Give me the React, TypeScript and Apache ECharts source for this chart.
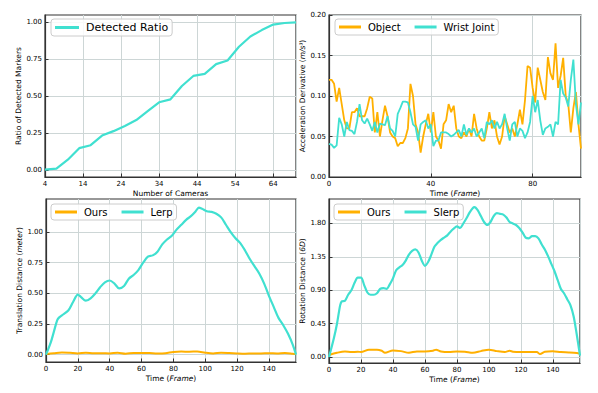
import React, { useEffect, useRef } from 'react';
import * as echarts from 'echarts';

// ---- Panel 1: detected ratio vs number of cameras
const cameraCounts = [4, 7, 10, 13, 16, 19, 22, 25, 28, 31, 34, 37, 40, 43, 46, 49, 52, 55, 58, 61, 64, 67, 70];
const detectedRatio = [0.005, 0.012, 0.072, 0.15, 0.17, 0.235, 0.265, 0.3, 0.34, 0.4, 0.46, 0.48, 0.57, 0.638, 0.652, 0.718, 0.742, 0.835, 0.905, 0.948, 0.985, 0.996, 1.0];

// ---- Panel 2: acceleration derivative per frame (frames 0..99)
const objectAccel = [
  0.12, 0.12, 0.115, 0.093, 0.11, 0.09, 0.07, 0.06, 0.06, 0.08,
  0.08, 0.085, 0.075, 0.075, 0.075, 0.085, 0.099, 0.097, 0.055, 0.08,
  0.05, 0.07, 0.088, 0.075, 0.055, 0.05, 0.048, 0.038, 0.042, 0.042,
  0.048, 0.06, 0.115, 0.1, 0.065, 0.055, 0.03, 0.05, 0.065, 0.078,
  0.055, 0.08, 0.05, 0.045, 0.035, 0.065, 0.07, 0.09, 0.08, 0.088,
  0.06, 0.05, 0.048, 0.055, 0.05, 0.06, 0.05, 0.078, 0.06, 0.05,
  0.045, 0.045, 0.06, 0.08, 0.06, 0.07, 0.05, 0.04, 0.05, 0.075,
  0.065, 0.055, 0.06, 0.05, 0.065, 0.083, 0.065, 0.095, 0.137, 0.135,
  0.11, 0.092, 0.135, 0.12, 0.105, 0.095, 0.148, 0.128, 0.12, 0.165,
  0.11, 0.125, 0.147, 0.1, 0.09, 0.055, 0.085, 0.105, 0.065, 0.035,
];
const wristAccel = [
  0.041, 0.04, 0.036, 0.039, 0.073, 0.065, 0.05, 0.068, 0.058, 0.057,
  0.053, 0.068, 0.09, 0.07, 0.066, 0.072, 0.065, 0.057, 0.068, 0.055,
  0.066, 0.065, 0.064, 0.075, 0.06, 0.057, 0.05, 0.078, 0.085, 0.093,
  0.093, 0.092, 0.08, 0.065, 0.062, 0.045, 0.065, 0.068, 0.07, 0.06,
  0.065, 0.038, 0.045, 0.045, 0.055, 0.055, 0.055, 0.053, 0.05, 0.052,
  0.055, 0.058, 0.05, 0.065, 0.052, 0.06, 0.055, 0.06, 0.05, 0.055,
  0.06, 0.048, 0.068, 0.065, 0.07, 0.06, 0.068, 0.06, 0.065, 0.078,
  0.06, 0.045, 0.065, 0.068, 0.05, 0.06, 0.057, 0.048, 0.055, 0.068,
  0.1, 0.08, 0.095, 0.07, 0.052, 0.06, 0.062, 0.065, 0.05, 0.068,
  0.065, 0.12, 0.103, 0.098, 0.087, 0.12, 0.145, 0.09, 0.065, 0.092,
];
const accelFrames = objectAccel.map((_, i) => i);

// ---- Panel 3: translation distance
const lerpFrames = [0, 3, 5, 7, 8, 10, 14, 17, 20, 22, 25, 28, 31, 34, 37, 40, 43, 46, 49, 52, 55, 58, 61, 64, 67, 70, 73, 76, 79, 82, 85, 88, 91, 94, 96, 98, 101, 104, 107, 110, 113, 116, 119, 122, 125, 128, 131, 134, 137, 140, 143, 146, 149, 152, 155, 157];
const lerpValues = [0.0, 0.1, 0.19, 0.28, 0.3, 0.32, 0.36, 0.43, 0.49, 0.47, 0.44, 0.46, 0.5, 0.55, 0.59, 0.605, 0.58, 0.54, 0.56, 0.62, 0.65, 0.69, 0.75, 0.8, 0.81, 0.84, 0.9, 0.94, 0.97, 1.02, 1.06, 1.1, 1.13, 1.17, 1.2, 1.19, 1.17, 1.165, 1.15, 1.12, 1.06, 1.0, 0.95, 0.91, 0.85, 0.78, 0.72, 0.66, 0.58, 0.48, 0.39, 0.3, 0.24, 0.17, 0.08, 0.0];
const oursTransFrames = [0, 5, 10, 15, 20, 25, 30, 35, 40, 45, 50, 55, 60, 65, 70, 75, 80, 85, 90, 95, 100, 105, 110, 115, 120, 125, 130, 135, 140, 145, 150, 155, 157];
const oursTransValues = [0.005, 0.012, 0.018, 0.015, 0.01, 0.016, 0.012, 0.012, 0.01, 0.016, 0.008, 0.014, 0.014, 0.013, 0.01, 0.012, 0.022, 0.025, 0.024, 0.026, 0.016, 0.01, 0.015, 0.013, 0.01, 0.008, 0.01, 0.01, 0.012, 0.01, 0.014, 0.008, 0.005];

// ---- Panel 4: rotation distance
const slerpFrames = [0, 3, 5, 7, 8, 10, 12, 14, 16, 18, 20, 22, 24, 26, 28, 30, 32, 34, 36, 38, 40, 42, 44, 46, 48, 50, 52, 54, 56, 58, 60, 62, 64, 66, 68, 70, 72, 74, 76, 78, 80, 82, 84, 86, 88, 90, 91, 93, 95, 97, 99, 101, 103, 105, 107, 109, 111, 113, 115, 117, 119, 121, 123, 125, 127, 129, 131, 133, 135, 137, 139, 141, 143, 145, 147, 149, 151, 153, 155, 157];
const slerpValues = [0.0, 0.25, 0.45, 0.7, 0.75, 0.76, 0.84, 0.9, 1.0, 1.07, 1.07, 0.97, 0.87, 0.84, 0.84, 0.86, 0.92, 0.93, 0.92, 0.98, 1.06, 1.17, 1.21, 1.24, 1.3, 1.38, 1.43, 1.45, 1.41, 1.3, 1.23, 1.28, 1.38, 1.49, 1.54, 1.58, 1.61, 1.64, 1.69, 1.73, 1.76, 1.74, 1.8, 1.87, 1.95, 2.01, 2.02, 1.98, 1.9, 1.82, 1.78, 1.82, 1.9, 1.94, 1.93, 1.92, 1.88, 1.82, 1.8, 1.78, 1.74, 1.68, 1.61, 1.6, 1.63, 1.63, 1.6, 1.52, 1.45, 1.36, 1.26, 1.16, 1.04, 0.92, 0.86, 0.78, 0.7, 0.55, 0.3, 0.02];
const oursRotFrames = [0, 5, 10, 14, 18, 20, 25, 30, 33, 35, 40, 45, 50, 55, 60, 65, 67, 70, 75, 80, 85, 90, 95, 100, 105, 110, 113, 115, 120, 125, 130, 132, 135, 140, 145, 150, 155, 157];
const oursRotValues = [0.027, 0.058, 0.076, 0.067, 0.072, 0.068, 0.1, 0.1, 0.085, 0.058, 0.09, 0.08, 0.058, 0.076, 0.076, 0.085, 0.1, 0.076, 0.067, 0.076, 0.072, 0.058, 0.08, 0.1, 0.08, 0.067, 0.085, 0.072, 0.067, 0.067, 0.067, 0.04, 0.072, 0.08, 0.067, 0.062, 0.054, 0.045];

// tick values
const ratioTicks = [0, 0.25, 0.5, 0.75, 1.0];
const transTicks = [0, 0.25, 0.5, 0.75, 1.0];
const rotTicks = [0, 0.45, 0.9, 1.35, 1.8];

const CYAN = '#40E0D0';
const ORANGE = '#FFB000';
const FONT = 'DejaVu Sans';
const TXT = '#000000';
const GRIDLINE = '#cdd6d6';

const pair = (xs: number[], ys: number[]) => ys.map((v, i) => [xs[i], v]);

function xAxisCfg(gridIndex: number, min: number, max: number, interval: number, name: string, rich: any) {
  return {
    type: 'value', gridIndex, min, max, interval,
    name, nameLocation: 'middle', nameGap: 12,
    nameTextStyle: { fontFamily: FONT, fontSize: 7.5, color: TXT, rich },
    axisLine: { show: true, onZero: false, lineStyle: { color: '#333', width: 1.2 } },
    axisTick: { show: true, inside: true, length: 3.5, lineStyle: { color: '#333' } },
    axisLabel: { fontFamily: FONT, fontSize: 7, color: TXT, margin: 3, showMaxLabel: false },
    splitLine: { show: true, lineStyle: { color: GRIDLINE, width: 1 } },
  };
}

function yAxisCfg(gridIndex: number, min: number, max: number, ticks: number[] | null, interval: number | undefined, name: string, rich: any, nameGap: number) {
  const a: any = {
    type: 'value', gridIndex, min, max,
    name, nameLocation: 'middle', nameGap,
    nameTextStyle: { fontFamily: FONT, fontSize: 7.5, color: TXT, rich },
    axisLine: { show: true, onZero: false, lineStyle: { color: '#333', width: 1.2 } },
    axisTick: { show: true, inside: true, length: 3.5, lineStyle: { color: '#333' } },
    axisLabel: { fontFamily: FONT, fontSize: 7, color: TXT, margin: 3, formatter: (v: number) => v.toFixed(2) },
    splitLine: { show: true, lineStyle: { color: GRIDLINE, width: 1 } },
  };
  if (interval !== undefined) a.interval = interval;
  if (ticks) {
    a.axisLabel.customValues = ticks;
    a.axisTick.customValues = ticks;
  }
  return a;
}

const richItalic = (size: number) => ({
  i: { fontStyle: 'italic', fontFamily: FONT, fontSize: size, color: TXT },
});

function legendCfg(data: string[], left: number, top: number, fontSize: number, itemGap: number, itemWidth: number) {
  return {
    data, left, top, orient: 'horizontal',
    icon: 'rect', itemWidth, itemHeight: 3, itemGap,
    padding: [3, 4, 3, 4],
    backgroundColor: 'rgba(255,255,255,0.85)',
    borderColor: '#cccccc', borderWidth: 1, borderRadius: 3,
    textStyle: { fontFamily: FONT, fontSize, color: TXT, padding: [0, 0, 0, 2] },
  };
}

export default function App() {
  const ref = useRef<HTMLDivElement>(null);
  useEffect(() => {
    if (!ref.current) return;
    const chart = echarts.init(ref.current, null, { renderer: 'svg' });
    const option: any = {
      animation: false,
      backgroundColor: '#ffffff',
      grid: [
        { left: 45, top: 15, width: 251, height: 162, show: true, borderColor: '#333', borderWidth: 1.2, containLabel: false },
        { left: 329, top: 15, width: 252, height: 162, show: true, borderColor: '#333', borderWidth: 1.2, containLabel: false },
        { left: 46, top: 199, width: 250, height: 163, show: true, borderColor: '#333', borderWidth: 1.2, containLabel: false },
        { left: 329, top: 199, width: 251, height: 164, show: true, borderColor: '#333', borderWidth: 1.2, containLabel: false },
      ],
      xAxis: [
        xAxisCfg(0, 4, 70, 10, 'Number of Cameras', richItalic(7.5)),
        xAxisCfg(1, 0, 99, 40, 'Time ({i|Frame})', richItalic(7.5)),
        xAxisCfg(2, 0, 157, 20, 'Time ({i|Frame})', richItalic(7.5)),
        xAxisCfg(3, 0, 157, 20, 'Time ({i|Frame})', richItalic(7.5)),
      ],
      yAxis: [
        yAxisCfg(0, -0.045, 1.05, ratioTicks, undefined, 'Ratio of Detected Markers', richItalic(7.5), 20),
        yAxisCfg(1, 0, 0.2, null, 0.05, 'Acceleration Derivative ({i|m/s³})', richItalic(7.5), 22),
        yAxisCfg(2, -0.06, 1.27, transTicks, undefined, 'Translation Distance ({i|meter})', richItalic(7.5), 21),
        yAxisCfg(3, -0.08, 2.13, rotTicks, undefined, 'Rotation Distance ({i|6D})', richItalic(7.5), 22),
      ],
      legend: [
        legendCfg(['Detected Ratio'], 51, 19, 11, 10, 24),
        legendCfg(['Object', 'Wrist Joint'], 335, 19, 10, 14, 22),
        legendCfg(['Ours', 'Lerp'], 51, 204, 10, 14, 22),
        legendCfg(['Ours', 'Slerp'], 334, 204, 10, 14, 22),
      ],
      series: [
        {
          name: 'Detected Ratio', type: 'line', xAxisIndex: 0, yAxisIndex: 0,
          data: pair(cameraCounts, detectedRatio), showSymbol: false, symbol: 'none',
          lineStyle: { color: CYAN, width: 2.2 }, itemStyle: { color: CYAN },
        },
        {
          name: 'Object', type: 'line', xAxisIndex: 1, yAxisIndex: 1,
          data: pair(accelFrames, objectAccel), showSymbol: false, symbol: 'none',
          lineStyle: { color: ORANGE, width: 1.8 }, itemStyle: { color: ORANGE },
        },
        {
          name: 'Wrist Joint', type: 'line', xAxisIndex: 1, yAxisIndex: 1,
          data: pair(accelFrames, wristAccel), showSymbol: false, symbol: 'none',
          lineStyle: { color: CYAN, width: 1.8 }, itemStyle: { color: CYAN },
        },
        {
          name: 'Ours', type: 'line', xAxisIndex: 2, yAxisIndex: 2,
          data: pair(oursTransFrames, oursTransValues), showSymbol: false, symbol: 'none', smooth: 0.3,
          lineStyle: { color: ORANGE, width: 2 }, itemStyle: { color: ORANGE },
        },
        {
          name: 'Lerp', type: 'line', xAxisIndex: 2, yAxisIndex: 2,
          data: pair(lerpFrames, lerpValues), showSymbol: false, symbol: 'none', smooth: 0.3,
          lineStyle: { color: CYAN, width: 2.2 }, itemStyle: { color: CYAN },
        },
        {
          name: 'Ours', type: 'line', xAxisIndex: 3, yAxisIndex: 3,
          data: pair(oursRotFrames, oursRotValues), showSymbol: false, symbol: 'none', smooth: 0.3,
          lineStyle: { color: ORANGE, width: 2 }, itemStyle: { color: ORANGE },
        },
        {
          name: 'Slerp', type: 'line', xAxisIndex: 3, yAxisIndex: 3,
          data: pair(slerpFrames, slerpValues), showSymbol: false, symbol: 'none', smooth: 0.3,
          lineStyle: { color: CYAN, width: 2.2 }, itemStyle: { color: CYAN },
        },
      ],
    };
    chart.setOption(option);
    return () => chart.dispose();
  }, []);
  return (
    <div
      ref={ref}
      style={{ position: 'fixed', left: 0, top: 0, width: 598, height: 393, background: '#fff' }}
    />
  );
}
